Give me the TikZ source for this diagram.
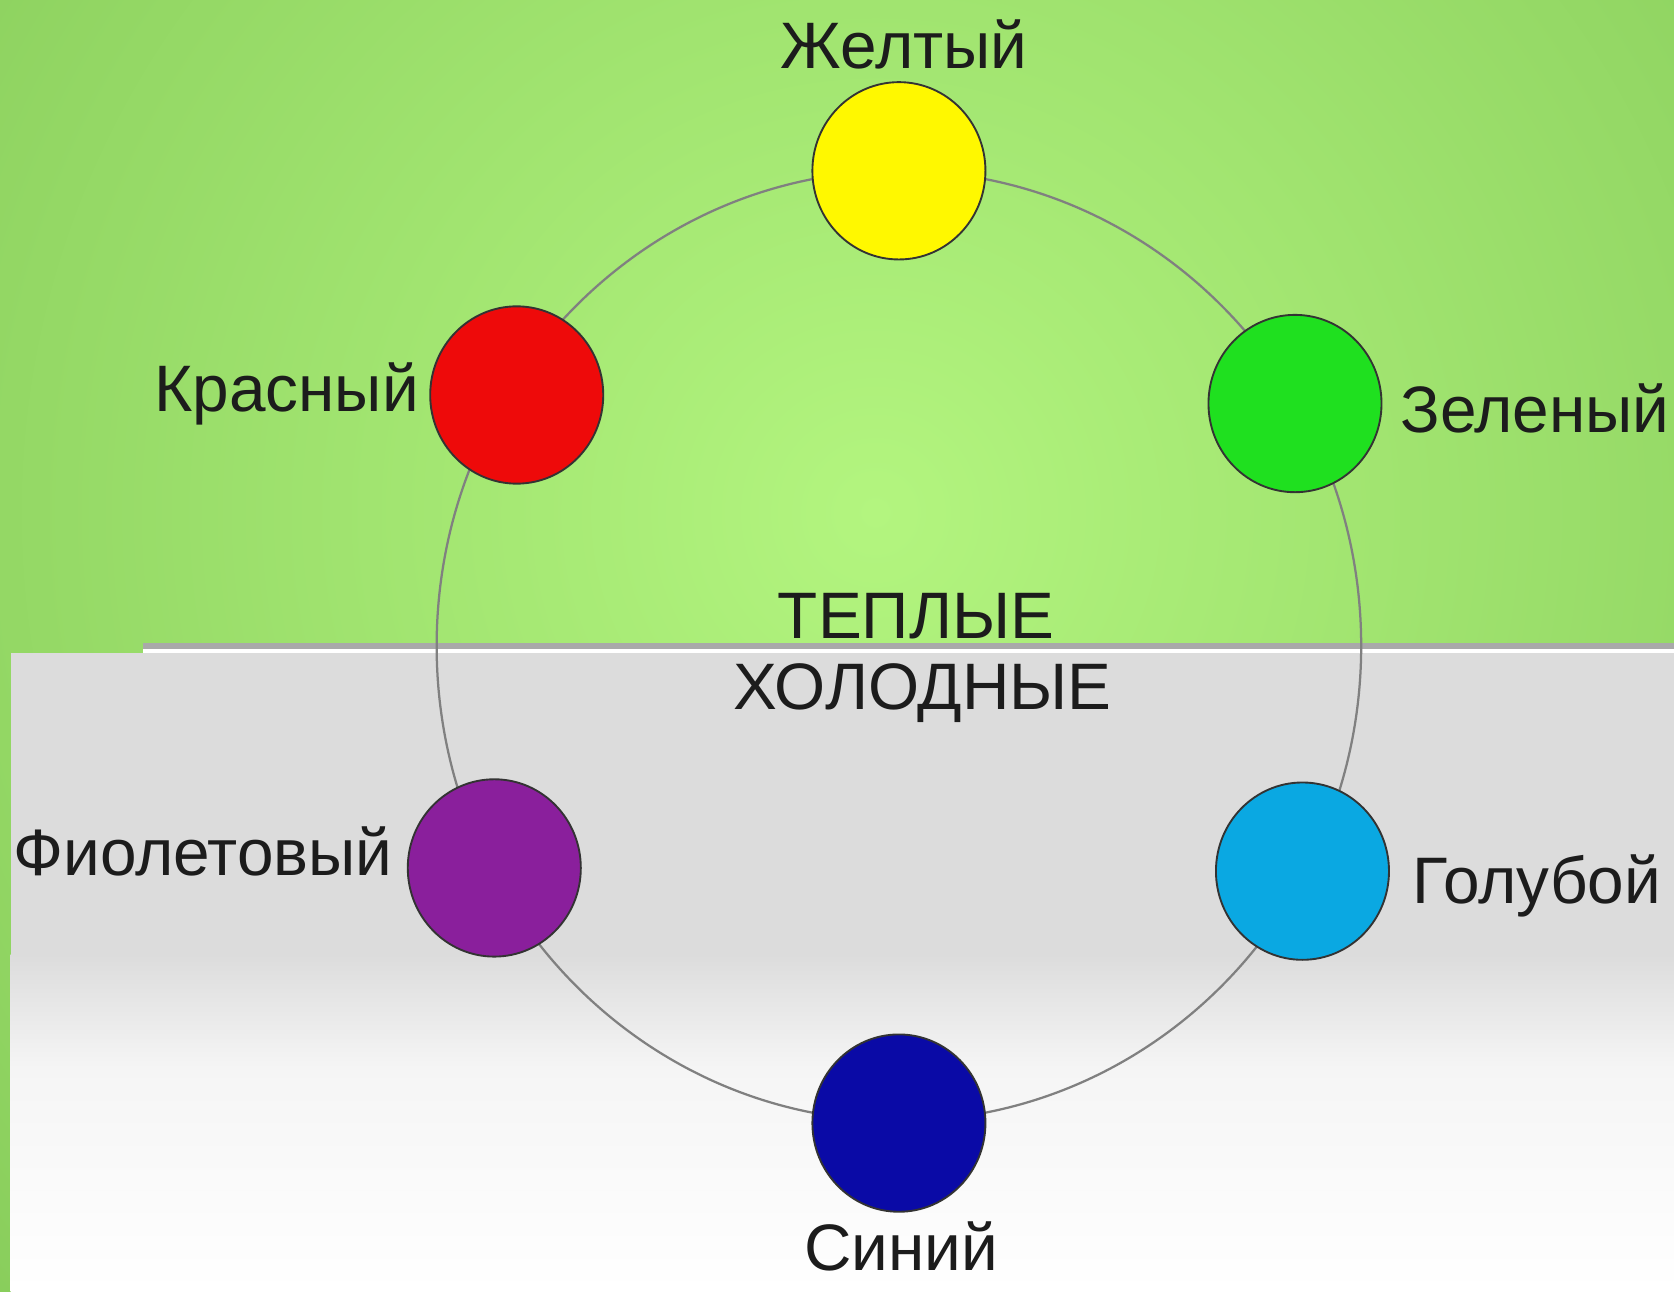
\documentclass[tikz,border=0pt]{standalone}
\usepackage{fontspec}
\setmainfont{Liberation Sans}
\usetikzlibrary{shapes.geometric}
\definecolor{gCenter}{HTML}{B3F57F}
\definecolor{gEdge}{HTML}{76BC4C}
\definecolor{panelgrey}{HTML}{DCDCDC}
\definecolor{panellight}{HTML}{F5F5F5}
\definecolor{linegrey}{HTML}{A9A9A9}
\definecolor{ringgrey}{HTML}{808080}
\definecolor{txt}{HTML}{1C1C1C}
\definecolor{cYellow}{HTML}{FFF800}
\definecolor{cRed}{HTML}{EE0A0A}
\definecolor{cGreen}{HTML}{1FE01F}
\definecolor{cPurple}{HTML}{8A1F9C}
\definecolor{cCyan}{HTML}{0AA8E2}
\definecolor{cBlue}{HTML}{0A0AA6}
\tikzset{
  ball/.style={ellipse, draw=black!80, line width=0.5pt, minimum width=1.62cm, minimum height=1.66cm, inner sep=0pt},
  lbl/.style={inner sep=0pt, text=txt, font=\fontsize{17.5}{20}\selectfont},
  ringline/.style={draw=ringgrey, line width=0.6pt}
}
\begin{document}
\begin{tikzpicture}[x=0.01cm,y=-0.01cm]
\useasboundingbox (0,0) rectangle (1568,1210);
% green background
\begin{scope}
\clip (0,0) rectangle (1568,1210);
\shade[inner color=gCenter, outer color=gEdge] (820,480) circle (1600);
\end{scope}
% grey panel
\fill[panelgrey] (10,612) rectangle (1568,895);
\shade[top color=panelgrey, bottom color=panellight] (10,894) rectangle (1568,1000);
\shade[top color=panellight, bottom color=white] (10,999) rectangle (1568,1210);
\fill[white] (134,607) rectangle (1568,612);
\fill[linegrey] (134,602) rectangle (1568,608);
% ring
\draw[ringline] (842,605) ellipse (433 and 445);
% colour balls
\node[ball, fill=cYellow] (yel) at (842,160) {};
\node[ball, fill=cRed] (red) at (484,370) {};
\node[ball, fill=cGreen] (grn) at (1213,378) {};
\node[ball, fill=cPurple] (pur) at (463,813) {};
\node[ball, fill=cCyan] (cya) at (1220,816) {};
\node[ball, fill=cBlue] (blu) at (842,1052) {};
% labels
\node[lbl, anchor=base] (tyel) at (847,64) {Желтый};
\node[lbl, anchor=base east] (tred) at (393,385) {Красный};
\node[lbl, anchor=base west] (tgrn) at (1311,405) {Зеленый};
\node[lbl, anchor=base west] (tpur) at (12,820) {Фиолетовый};
\node[lbl, anchor=base west] (tcya) at (1322,846) {Голубой};
\node[lbl, anchor=base] (tblu) at (844,1190) {Синий};
\node[lbl, anchor=base] (warm) at (858,598) {ТЕПЛЫЕ};
\node[lbl, anchor=base] (cold) at (864,665) {ХОЛОДНЫЕ};
\end{tikzpicture}
\end{document}
